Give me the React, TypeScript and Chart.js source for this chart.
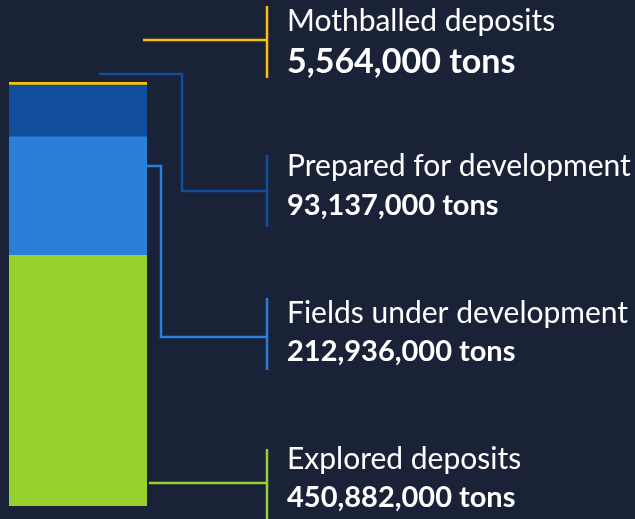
import React, { useEffect, useRef } from 'react';
import { Chart, registerables } from 'chart.js';

Chart.register(...registerables);

const categories = ['Reserves'];
const seriesNames = ['Explored deposits', 'Fields under development', 'Prepared for development', 'Mothballed deposits'];
const seriesValues = [450882000, 212936000, 93137000, 5564000];
const seriesColors = ['#98D02F', '#2B7FD8', '#104E9C', '#FFC000'];
const unitLabel = 'tons';

const BG = '#1a2238';
const FONT = 'Lato, "Open Sans", sans-serif';

// Layout of callouts per dataset index (pixel layout, not data)
const calloutLayout: Record<number, { path: [number, number][]; markTop: number; markBottom: number; titleY: number; valueY: number; valueSize: number }> = {
  3: { path: [[143, 40], [267, 40]], markTop: 6, markBottom: 78, titleY: 31, valueY: 73, valueSize: 34 },
  2: { path: [[99, 74], [182, 74], [182, 191], [267, 191]], markTop: 155, markBottom: 227, titleY: 176, valueY: 215, valueSize: 29 },
  1: { path: [[147, 166], [161, 166], [161, 337], [267, 337]], markTop: 298, markBottom: 370, titleY: 323, valueY: 361, valueSize: 29 },
  0: { path: [[149, 483], [267, 483]], markTop: 449, markBottom: 522, titleY: 469, valueY: 507, valueSize: 29 },
};

const calloutPlugin = {
  id: 'callouts',
  afterDraw(chart: any) {
    const ctx = chart.ctx as CanvasRenderingContext2D;
    ctx.save();
    chart.data.datasets.forEach((ds: any, i: number) => {
      const lay = calloutLayout[i];
      if (!lay) return;
      const color = ds.backgroundColor as string;
      ctx.strokeStyle = color;
      ctx.lineWidth = 2.5;
      ctx.lineJoin = 'miter';
      ctx.beginPath();
      lay.path.forEach(([x, y], k) => (k === 0 ? ctx.moveTo(x, y) : ctx.lineTo(x, y)));
      ctx.stroke();
      ctx.beginPath();
      ctx.moveTo(267, lay.markTop);
      ctx.lineTo(267, lay.markBottom);
      ctx.stroke();
      ctx.fillStyle = '#ffffff';
      ctx.textAlign = 'left';
      ctx.textBaseline = 'alphabetic';
      ctx.font = `400 30px ${FONT}`;
      ctx.fillText(ds.label, 287, lay.titleY);
      ctx.font = `700 ${lay.valueSize}px ${FONT}`;
      const v = ds.data[0] as number;
      ctx.fillText(`${v.toLocaleString('en-US')} ${unitLabel}`, 287, lay.valueY);
    });
    ctx.restore();
  },
};

export default function App() {
  const ref = useRef<HTMLCanvasElement | null>(null);
  useEffect(() => {
    if (!ref.current) return;
    const total = seriesValues.reduce((a, b) => a + b, 0);
    const chart = new Chart(ref.current, {
      type: 'bar',
      data: {
        labels: categories,
        datasets: seriesNames.map((name, i) => ({
          label: name,
          data: [seriesValues[i]],
          backgroundColor: seriesColors[i],
          borderWidth: 0,
          categoryPercentage: 1,
          barPercentage: 1,
        })),
      },
      options: {
        responsive: false,
        animation: false,
        layout: { padding: { left: 9, right: 488, top: 82, bottom: 13 } },
        plugins: { legend: { display: false }, tooltip: { enabled: false } },
        scales: {
          x: { stacked: true, display: false, grid: { display: false } },
          y: { stacked: true, display: false, min: 0, max: total, grid: { display: false } },
        },
      },
      plugins: [calloutPlugin],
    });
    return () => chart.destroy();
  }, []);
  return (
    <div style={{ position: 'absolute', left: 0, top: 0, width: 635, height: 519, background: BG }}>
      <canvas ref={ref} width={635} height={519} style={{ display: 'block' }} />
    </div>
  );
}
